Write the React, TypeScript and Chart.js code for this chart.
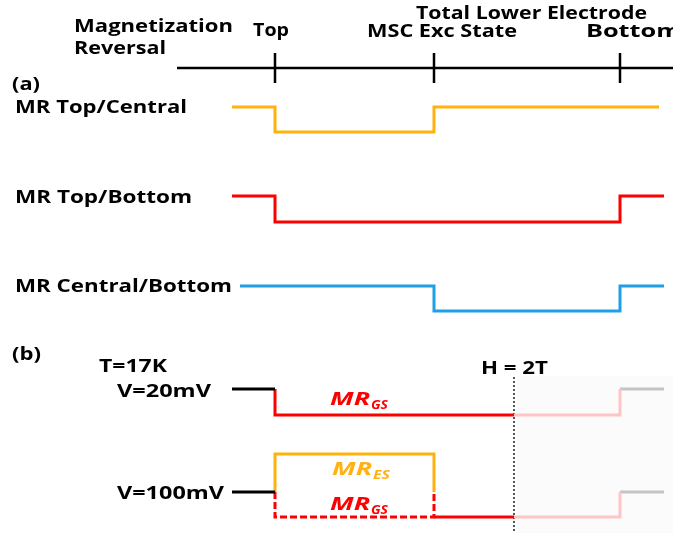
import React, { useEffect, useRef } from "react";
import { Chart, registerables } from "chart.js";

Chart.register(...registerables);

// ---- Panel (a): field sweep positions (x) and MR levels (y) ----
const axisX = [177, 673];
const axisY = [68, 68];
const tickX = [275, 434, 620];
const tickY = [53, 83];

const topCentralX = [232, 275, 275, 434, 434, 659];
const topCentralY = [107, 107, 132, 132, 107, 107];
const topBottomX = [232, 275, 275, 620, 620, 664];
const topBottomY = [196, 196, 222, 222, 196, 196];
const centralBottomX = [240, 434, 434, 620, 620, 664];
const centralBottomY = [286, 286, 311, 311, 286, 286];

// ---- Panel (b) ----
const v20BlackX = [232, 275];
const v20BlackY = [389, 389];
const v20RedX = [275, 275, 514];
const v20RedY = [389, 415, 415];
const v20FadedX = [514, 620, 620];
const v20FadedY = [415, 415, 389];
const v20GrayX = [620, 664];
const v20GrayY = [389, 389];

const v100BlackX = [232, 275];
const v100BlackY = [492, 492];
const v100EsX = [275, 275, 434, 434];
const v100EsY = [492, 454, 454, 492];
const v100GsDashX = [275, 275, 434, 434];
const v100GsDashY = [492, 517, 517, 492];
const v100RedX = [434, 514];
const v100RedY = [517, 517];
const v100FadedX = [514, 620, 620];
const v100FadedY = [517, 517, 492];
const v100GrayX = [620, 664];
const v100GrayY = [492, 492];

const fieldLineX = [514, 514];
const fieldLineY = [377, 533];
const shadeX = [517, 673];
const shadeY = [376, 533];

const ORANGE = "#FFB20F";
const RED = "#FF0000";
const BLUE = "#1EA0E6";
const BLACK = "#000000";
const PINK = "#FFC4C6";
const GRAY = "#C4C4C4";

// text labels: [text, x, baseline, width]
const labels: [string, number, number, number][] = [
  ["Magnetization", 74, 32, 159],
  ["Reversal", 74, 54, 92],
  ["Top", 253, 36, 36],
  ["Total Lower Electrode", 416, 19, 231],
  ["MSC Exc State", 367, 37, 150],
  ["Bottom", 586, 37, 95],
  ["(a)", 12, 90, 28],
  ["MR Top/Central", 15, 113, 172],
  ["MR Top/Bottom", 15, 203, 177],
  ["MR Central/Bottom", 15, 292, 217],
  ["(b)", 12, 360, 29],
  ["T=17K", 99, 372, 68],
  ["H = 2T", 481, 374, 67],
  ["V=20mV", 117, 397, 94],
  ["V=100mV", 117, 499, 107],
];

// MR labels: [sub, color, x, baseline]
const mrLabels: [string, string, number, number][] = [
  ["GS", RED, 330, 405],
  ["ES", ORANGE, 332, 475],
  ["GS", RED, 330, 510],
];

const zip = (xs: number[], ys: number[]) => xs.map((x, i) => ({ x, y: ys[i] }));

const line = (xs: number[], ys: number[], color: string, extra: any = {}) => ({
  data: zip(xs, ys),
  borderColor: color,
  borderWidth: 3,
  pointRadius: 0,
  showLine: true,
  fill: false,
  tension: 0,
  borderJoinStyle: "miter",
  ...extra,
});

const FONT = '"Open Sans", "DejaVu Sans", sans-serif';

function drawStretched(ctx: CanvasRenderingContext2D, text: string, x: number, y: number, w: number, font: string) {
  ctx.save();
  ctx.font = font;
  const m = ctx.measureText(text).width;
  ctx.translate(x, y);
  ctx.scale(w / m, 1);
  ctx.textBaseline = "alphabetic";
  ctx.textAlign = "left";
  ctx.fillText(text, 0, 0);
  ctx.restore();
}

const overlayPlugin = {
  id: "overlay",
  beforeDatasetsDraw(chart: any) {
    const { ctx, scales } = chart;
    const x0 = scales.x.getPixelForValue(shadeX[0]);
    const x1 = scales.x.getPixelForValue(shadeX[1]);
    const y0 = scales.y.getPixelForValue(shadeY[0]);
    const y1 = scales.y.getPixelForValue(shadeY[1]);
    ctx.save();
    ctx.fillStyle = "#FBFBFB";
    ctx.fillRect(x0, y0, x1 - x0, y1 - y0);
    ctx.restore();
  },
  afterDraw(chart: any) {
    const { ctx, scales } = chart;
    const px = (v: number) => scales.x.getPixelForValue(v);
    const py = (v: number) => scales.y.getPixelForValue(v);
    ctx.save();
    ctx.fillStyle = "#000000";
    for (const [t, x, y, w] of labels) {
      drawStretched(ctx, t, px(x), py(y), w, `bold 17px ${FONT}`);
    }
    for (const [sub, color, x, y] of mrLabels) {
      ctx.fillStyle = color;
      drawStretched(ctx, "MR", px(x), py(y), 40, `italic bold 17px ${FONT}`);
      drawStretched(ctx, sub, px(x + 41), py(y + 4), 17, `italic bold 12px ${FONT}`);
    }
    ctx.restore();
  },
};

export default function App() {
  const ref = useRef<HTMLCanvasElement | null>(null);
  useEffect(() => {
    if (!ref.current) return;
    const datasets: any[] = [
      line(axisX, axisY, BLACK, { borderWidth: 2.5 }),
      ...tickX.map((x) => line([x, x], tickY, BLACK, { borderWidth: 2.5 })),
      line(topCentralX, topCentralY, ORANGE),
      line(topBottomX, topBottomY, RED),
      line(centralBottomX, centralBottomY, BLUE),
      line(v20BlackX, v20BlackY, BLACK),
      line(v20RedX, v20RedY, RED),
      line(v20FadedX, v20FadedY, PINK),
      line(v20GrayX, v20GrayY, GRAY),
      line(v100BlackX, v100BlackY, BLACK),
      line(v100EsX, v100EsY, ORANGE),
      line(v100GsDashX, v100GsDashY, RED, { borderDash: [7, 3] }),
      line(v100RedX, v100RedY, RED),
      line(v100FadedX, v100FadedY, PINK),
      line(v100GrayX, v100GrayY, GRAY),
      line(fieldLineX, fieldLineY, "#555555", { borderWidth: 2, borderDash: [2, 2], borderCapStyle: "butt" }),
    ];
    const chart = new Chart(ref.current, {
      type: "scatter",
      data: { datasets },
      options: {
        animation: false,
        responsive: false,
        devicePixelRatio: 1,
        layout: { padding: 0 },
        plugins: { legend: { display: false }, tooltip: { enabled: false } },
        scales: {
          x: { type: "linear", min: 0, max: 673, display: false },
          y: { type: "linear", min: 0, max: 533, reverse: true, display: false },
        },
      } as any,
      plugins: [overlayPlugin],
    });
    return () => chart.destroy();
  }, []);
  return (
    <div style={{ position: "fixed", left: 0, top: 0, width: 673, height: 533, background: "#fff" }}>
      <canvas ref={ref} width={673} height={533} style={{ display: "block" }} />
    </div>
  );
}
